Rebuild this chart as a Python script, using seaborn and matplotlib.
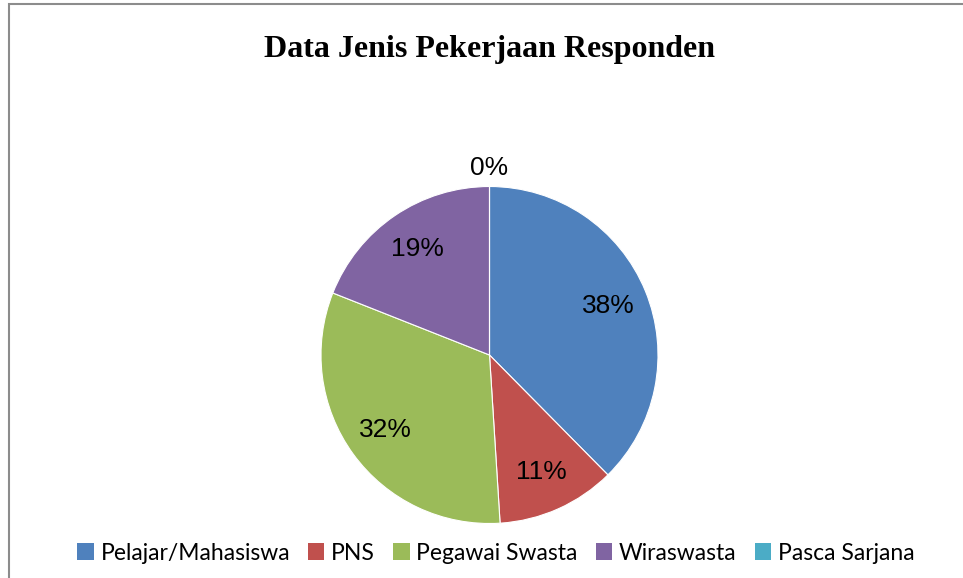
import matplotlib
matplotlib.use("Agg")
import matplotlib.pyplot as plt
import seaborn as sns
import numpy as np
from matplotlib.patches import Patch, Rectangle

# data (percent of respondents)
categories = ["Pelajar/Mahasiswa", "PNS", "Pegawai Swasta", "Wiraswasta", "Pasca Sarjana"]
values = [37.6, 11.4, 32.0, 19.0, 0.0]
colors = ["#4F81BD", "#C0504D", "#9BBB59", "#8064A2", "#4BACC6"]

sns.set_theme(style="white")
plt.rcParams["font.family"] = ["Liberation Sans", "DejaVu Sans"]
plt.rcParams["text.color"] = "black"

fig = plt.figure(figsize=(9.63, 5.78), dpi=100)

# gray frame around the chart area
fig.patches.append(Rectangle((9 / 963, -0.02), 1.0, 1 - 4 / 578 + 0.02,
                             transform=fig.transFigure, fill=False,
                             edgecolor="#8c8c8c", linewidth=1.5))

# pie axes, centred where the reference pie sits
cx, cy, r = 489.5, 355, 168.5
ax = fig.add_axes([(cx - r) / 963, (578 - cy - r) / 578, 2 * r / 963, 2 * r / 578])

wedges, texts, autotexts = ax.pie(
    values, colors=colors, startangle=90, counterclock=False,
    autopct="%.0f%%", pctdistance=0.76, radius=1,
    wedgeprops=dict(edgecolor="white", linewidth=0.8),
    textprops=dict(fontsize=19, color="black"))
ax.set_xlim(-1, 1)
ax.set_ylim(-1, 1)
ax.set_aspect("equal")
ax.axis("off")

# the empty slice gets its label outside the pie like in the original
x, y = autotexts[-1].get_position()
n = np.hypot(x, y)
autotexts[-1].set_position((x / n * 1.11, y / n * 1.11))

fig.text(489 / 963, 1 - 49 / 578, "Data Jenis Pekerjaan Responden",
         ha="center", va="center", fontsize=23, fontweight="bold",
         color="black", family=["Liberation Serif", "DejaVu Serif"])

handles = [Patch(facecolor=c, edgecolor="none") for c in colors]
fig.legend(handles, categories, loc="center", ncol=5,
           bbox_to_anchor=(496 / 963, 1 - 553 / 578), frameon=False,
           prop=dict(family=["Lato", "DejaVu Sans"], size=16.5),
           labelcolor="black",
           handlelength=0.7, handleheight=0.7, handletextpad=0.3,
           columnspacing=0.8)

fig.savefig("out.png", dpi=100)
